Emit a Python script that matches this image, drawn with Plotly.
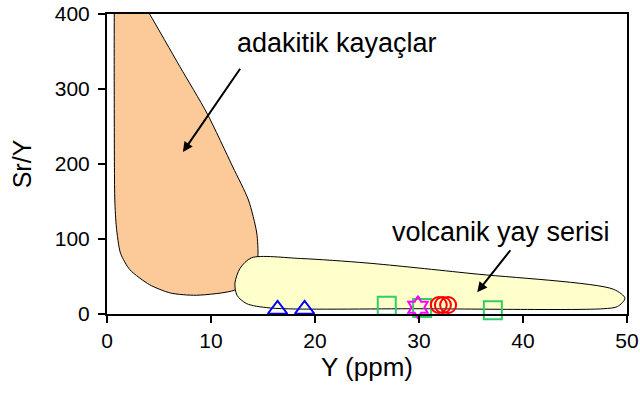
import plotly.graph_objects as go

# Field polygons (data coordinates; top runs past the axis and is clipped)
adakite_x = [2.4, 4.1, 7.0, 9.6, 12.1, 13.6, 14.4, 14.5, 14.0, 12.3, 8.6, 6.1, 4.1, 2.2, 1.3, 0.9, 0.75, 0.7, 0.7, 0.75]
adakite_y = [440, 400, 330, 268, 196, 152, 108, 76, 50, 32, 25, 28, 39, 59, 81, 116, 152, 260, 400, 440]

arc_x = [13.9, 18.6, 25.0, 35.0, 48.7, 49.8, 49.1, 47.7, 30.0, 15.7, 13.4, 12.5, 12.3, 12.8, 13.9]
arc_y = [75, 74, 68, 54, 33, 21, 10, 7, 7, 8, 14, 25, 41, 61, 75]

# Samples
tri_x = [16.4, 19.0]
tri_y = [6, 6]
sq_x = [26.9, 30.3, 37.1]
sq_y = [11, 8, 5]
star_x = [29.9]
star_y = [9]
circ_x = [31.9, 32.3, 32.8]
circ_y = [12, 12, 12]

x_ticks = [0, 10, 20, 30, 40, 50]
y_ticks = [0, 100, 200, 300, 400]

FONT = "Liberation Sans, Arial, sans-serif"

fig = go.Figure()
fig.add_trace(go.Scatter(x=adakite_x, y=adakite_y, mode="lines", fill="toself",
                         fillcolor="#FCCA98", line=dict(color="black", width=1, shape="spline", smoothing=0.7),
                         hoverinfo="skip", showlegend=False))
fig.add_trace(go.Scatter(x=arc_x, y=arc_y, mode="lines", fill="toself",
                         fillcolor="#FFFFCC", line=dict(color="black", width=1, shape="spline", smoothing=0.8),
                         hoverinfo="skip", showlegend=False))

def pts(x, y, sym, col, size):
    fig.add_trace(go.Scatter(x=x, y=y, mode="markers", cliponaxis=False, showlegend=False,
                             marker=dict(symbol=sym, size=size, color=col,
                                         line=dict(color=col, width=2))))

pts(tri_x, tri_y, "triangle-up-open", "#0000FF", 17)
pts(sq_x, sq_y, "square-open", "#33CC66", 18)
pts(star_x, star_y, "hexagram-open", "#FF00FF", 17)
pts(circ_x, circ_y, "circle-open", "#FF0000", 16)

fig.add_annotation(x=22.1, y=361, text="adakitik kayaçlar", showarrow=False,
                   font=dict(family=FONT, size=27, color="black"))
fig.add_annotation(x=37.9, y=109, text="volcanik yay serisi", showarrow=False,
                   font=dict(family=FONT, size=27, color="black"))
fig.add_annotation(x=7.3, y=216, ax=12.9, ay=329, axref="x", ayref="y", text="",
                   showarrow=True, arrowhead=2, arrowsize=1, arrowwidth=2, arrowcolor="black")
fig.add_annotation(x=35.6, y=29, ax=38.9, ay=87, axref="x", ayref="y", text="",
                   showarrow=True, arrowhead=2, arrowsize=1, arrowwidth=2, arrowcolor="black")

fig.update_xaxes(range=[0, 50], tickvals=x_ticks, ticks="outside", ticklen=7, tickwidth=2,
                 tickcolor="black", showline=True, linecolor="black", linewidth=2, mirror=True,
                 showgrid=False, zeroline=False,
                 tickfont=dict(family=FONT, size=21, color="black"),
                 title=dict(text="Y (ppm)", font=dict(family=FONT, size=26, color="black"), standoff=6))
fig.update_yaxes(range=[0, 400], tickvals=y_ticks, ticks="outside", ticklen=7, tickwidth=2,
                 tickcolor="black", showline=True, linecolor="black", linewidth=2, mirror=True,
                 showgrid=False, zeroline=False, ticklabelstandoff=4,
                 tickfont=dict(family=FONT, size=21, color="black"),
                 title=dict(text="Sr/Y", font=dict(family=FONT, size=25, color="black"), standoff=16))

fig.update_layout(width=640, height=394, margin=dict(l=107, r=13, t=14, b=80, autoexpand=False),
                  plot_bgcolor="white", paper_bgcolor="white")

fig.write_html("out.html")
